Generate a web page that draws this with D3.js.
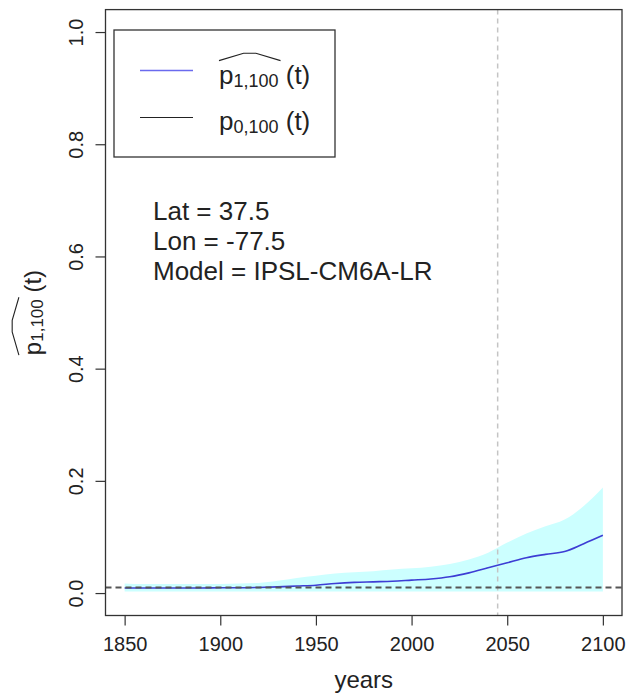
<!DOCTYPE html>
<html>
<head>
<meta charset="utf-8">
<script src="https://cdn.jsdelivr.net/npm/d3@7"></script>
<style>
  body { margin: 0; background: #fff; }
  svg { display: block; font-family: "Liberation Sans", Arial, sans-serif; }
</style>
</head>
<body>
<div id="contents"></div>
<script>
var years      = [1850, 1860, 1870, 1880, 1890, 1900, 1910, 1920, 1930, 1940, 1950, 1960, 1970,
                  1980, 1990, 2000, 2010, 2020, 2030, 2040, 2050, 2060, 2070, 2080, 2090, 2100];
var pHat       = [0.009, 0.009, 0.009, 0.009, 0.009, 0.0095, 0.0095, 0.010, 0.011, 0.0125, 0.014, 0.017, 0.019,
                  0.020, 0.021, 0.023, 0.025, 0.029, 0.036, 0.045, 0.054, 0.063, 0.069, 0.074, 0.088, 0.103];
var bandUpper  = [0.017, 0.016, 0.016, 0.016, 0.016, 0.016, 0.017, 0.018, 0.022, 0.027, 0.031, 0.035, 0.037,
                  0.039, 0.042, 0.044, 0.047, 0.052, 0.060, 0.072, 0.090, 0.106, 0.119, 0.131, 0.155, 0.188];
var bandLower  = [0.003, 0.003, 0.003, 0.003, 0.003, 0.003, 0.003, 0.003, 0.003, 0.003, 0.003, 0.003, 0.003,
                  0.003, 0.003, 0.003, 0.003, 0.003, 0.003, 0.003, 0.003, 0.003, 0.003, 0.003, 0.003, 0.003];
var p0         = 0.01;
var refYear    = 2045;
var xTicks     = [1850, 1900, 1950, 2000, 2050, 2100];
var yTicks     = [0, 0.2, 0.4, 0.6, 0.8, 1.0];
var infoLines  = ["Lat = 37.5", "Lon = -77.5", "Model = IPSL-CM6A-LR"];

var W = 634, H = 693;
var box = {left: 105.5, right: 622, top: 9.6, bottom: 615.5};

var x = d3.scaleLinear().domain([1840, 2110]).range([box.left, box.right]);
var y = d3.scaleLinear().domain([-0.04, 1.04]).range([box.bottom, box.top]);

var svg = d3.select("#contents").append("svg")
    .attr("width", W)
    .attr("height", H);

var rows = years.map(function(d, i) {
    return {year: d, p: pHat[i], lo: bandLower[i], hi: bandUpper[i]};
});

// confidence band
svg.append("path")
    .datum(rows)
    .attr("fill", "#ccffff")
    .attr("d", d3.area()
        .x(function(d) { return x(d.year); })
        .y0(function(d) { return y(d.lo); })
        .y1(function(d) { return y(d.hi); })
        .curve(d3.curveMonotoneX));

// reference lines
svg.append("line")
    .attr("x1", x(refYear)).attr("x2", x(refYear))
    .attr("y1", box.top).attr("y2", box.bottom)
    .attr("stroke", "#c4c4c4")
    .attr("stroke-width", 1.5)
    .attr("stroke-dasharray", "5,4");

svg.append("path")
    .datum(rows)
    .attr("fill", "none")
    .attr("stroke", "#3d3dd4")
    .attr("stroke-width", 1.6)
    .attr("d", d3.line()
        .x(function(d) { return x(d.year); })
        .y(function(d) { return y(d.p); })
        .curve(d3.curveMonotoneX));

svg.append("line")
    .attr("x1", box.left).attr("x2", box.right)
    .attr("y1", y(p0)).attr("y2", y(p0))
    .attr("stroke", "#555")
    .attr("stroke-width", 2)
    .attr("stroke-dasharray", "6,4");

// axes
var xAxis = d3.axisBottom(x).tickValues(xTicks).tickSize(10).tickPadding(0).tickFormat(d3.format("d"));
var gx = svg.append("g")
    .attr("transform", "translate(0," + box.bottom + ")")
    .call(xAxis);
gx.select(".domain").remove();
gx.selectAll("line").attr("stroke", "#333").attr("stroke-width", 1.2);
gx.selectAll("text")
    .attr("y", 35.5).attr("dy", null)
    .attr("fill", "#222")
    .style("font-size", "20px")
    .style("font-family", "'Liberation Sans', Arial, sans-serif");

var yAxis = d3.axisLeft(y).tickValues(yTicks).tickSize(10).tickFormat(d3.format(".1f"));
var gy = svg.append("g")
    .attr("transform", "translate(" + box.left + ",0)")
    .call(yAxis);
gy.select(".domain").remove();
gy.selectAll("line").attr("stroke", "#333").attr("stroke-width", 1.2);
gy.selectAll("text")
    .attr("x", null).attr("dy", null)
    .attr("transform", "translate(-23,0) rotate(-90)")
    .attr("text-anchor", "middle")
    .attr("fill", "#222")
    .style("font-size", "20px")
    .style("font-family", "'Liberation Sans', Arial, sans-serif");

svg.append("rect")
    .attr("x", box.left).attr("y", box.top)
    .attr("width", box.right - box.left)
    .attr("height", box.bottom - box.top)
    .attr("fill", "none")
    .attr("stroke", "#333")
    .attr("stroke-width", 1.3);

// p_{sub} (t) label, optional hat over p_{sub}
function pLabel(g, sub, fs, subFs, hat, anchorMiddle) {
    var t = g.append("text").attr("fill", "#222").style("font-size", fs + "px");
    t.append("tspan").text("p");
    t.append("tspan").attr("dy", fs * 0.12).style("font-size", subFs + "px").text(sub);
    t.append("tspan").attr("dy", -fs * 0.12).text(" (t)");
    var node = t.node();
    var total = node.getComputedTextLength();
    var hatW = node.getSubStringLength(0, 1 + sub.length) + 2;
    var x0 = anchorMiddle ? -total / 2 : 0;
    t.attr("x", x0);
    if (hat) {
        g.append("path")
            .attr("fill", "none")
            .attr("stroke", "#222")
            .attr("stroke-width", 1.1)
            .attr("d", "M" + x0 + "," + (-fs * 0.9) +
                       " L" + (x0 + hatW * 0.4) + "," + (-fs * 1.18) +
                       " L" + (x0 + hatW * 0.6) + "," + (-fs * 1.18) +
                       " L" + (x0 + hatW) + "," + (-fs * 0.9));
    }
}

svg.append("text")
    .attr("x", (box.left + box.right) / 2)
    .attr("y", 688)
    .attr("text-anchor", "middle")
    .attr("fill", "#222")
    .style("font-size", "24px")
    .text("years");

var ylab = svg.append("g").attr("transform", "translate(40.5," + ((box.top + box.bottom) / 2) + ") rotate(-90)");
pLabel(ylab, "1,100", 24, 17, true, true);

// legend
var legend = svg.append("g");
legend.append("rect")
    .attr("x", 114).attr("y", 30)
    .attr("width", 221).attr("height", 127)
    .attr("fill", "#fff")
    .attr("stroke", "#333")
    .attr("stroke-width", 1.3);
legend.append("line")
    .attr("x1", 140).attr("x2", 193).attr("y1", 70.5).attr("y2", 70.5)
    .attr("stroke", "#6a6aee").attr("stroke-width", 1.5);
legend.append("line")
    .attr("x1", 140).attr("x2", 193).attr("y1", 117.5).attr("y2", 117.5)
    .attr("stroke", "#222").attr("stroke-width", 1.2);
pLabel(legend.append("g").attr("transform", "translate(219,84)"), "1,100", 26, 18, true, false);
pLabel(legend.append("g").attr("transform", "translate(219,130)"), "0,100", 26, 18, false, false);

// info text
svg.append("g").selectAll("text")
    .data(infoLines)
    .join("text")
    .attr("x", 153)
    .attr("y", function(d, i) { return 219.5 + i * 30.3; })
    .attr("fill", "#222")
    .style("font-size", "26px")
    .text(function(d) { return d; });
</script>
</body>
</html>
